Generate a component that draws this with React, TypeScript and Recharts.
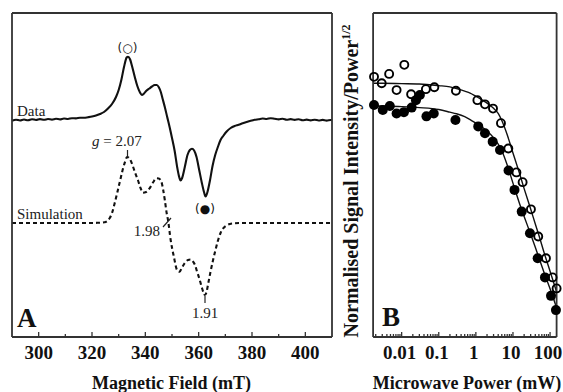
import React from 'react';
import { LineChart, ComposedChart, Line, Scatter, XAxis, YAxis } from 'recharts';

// ---------- Panel A : EPR spectrum ----------
const dataField = [290, 291.5, 293, 294.5, 296, 297.5, 299, 300.5, 302, 303.5, 305, 306.5, 308, 309.5, 311, 312.5, 314, 315.5, 317, 318.5, 320, 321.5, 323, 324.5, 326, 327.5, 329, 330, 331, 332, 333, 333.5, 334.3, 335, 336, 337, 338, 338.7, 339.5, 340.5, 341.5, 342.5, 343.5, 344.3, 345, 345.8, 346.5, 347.3, 348.2, 349.1, 350, 351, 352, 352.6, 353.2, 353.8, 354.8, 355.8, 356.7, 357.5, 358.3, 359.2, 360.2, 361.2, 362, 362.6, 363.3, 364.2, 365.2, 366.2, 367.2, 368.2, 369.2, 370.5, 372, 373.5, 375, 376.5, 378, 379.5, 381, 382.5, 384, 385.5, 387, 388.5, 390, 391.5, 393, 394.5, 396, 397.5, 399, 400.5, 402, 403.5, 405, 406.5, 408, 409.5, 410];
const dataSignal = [-0.7, 0.3, -0.5, 0.5, -0.3, 0.8, 0, 0.9, 0.2, 1.0, 0.4, 1.2, 0.6, 1.5, 1.0, 1.8, 1.6, 2.2, 2.2, 2.8, 3.5, 4.5, 6, 8, 11.5, 16, 23, 30, 40, 53, 62.5, 63.3, 60.5, 54, 43.5, 34, 27.5, 25, 26.5, 29.5, 31.5, 33.5, 35, 35, 33, 28, 21, 13, 3, -7, -18, -31, -48, -56, -60.5, -58, -47, -35, -30, -28.8, -30.5, -37, -50, -63, -72, -76.5, -72, -61, -46, -35, -27, -20, -16, -11.5, -8, -6, -4.8, -3.3, -2, -0.8, 0.2, 0.8, 1.5, 1.0, 1.8, 1.2, 0.6, 1.3, 0.2, 0.9, 0.1, 0.7, -0.2, 0.4, -0.4, 0.3, -0.5, 0.1, -0.6, 0, -0.3];

const simField = [290, 300, 310, 318, 322, 324.7, 326.6, 327.5, 328.5, 330.3, 332.2, 333.2, 334.2, 335.3, 336.2, 337.2, 338.2, 339.1, 340.3, 341.6, 343, 344.1, 345, 346, 346.7, 347.3, 348, 348.5, 349.5, 350.7, 351.9, 352.9, 353.6, 354.8, 356, 357, 357.9, 358.7, 359.4, 360.3, 361.1, 361.8, 362.3, 362.9, 363.6, 364.5, 365.4, 366.4, 367.3, 368.2, 369.2, 370.4, 371.7, 373.5, 375.5, 390, 410];
const simSignal = [0, 0, 0, 0, 0.2, 0.8, 4.7, 10, 19.7, 39.7, 59.7, 66, 64, 57, 50, 43, 35, 30.3, 31, 34.7, 41, 44.7, 44.5, 41.3, 33, 23, 10, 3, -17, -33.7, -47, -48.7, -45.3, -40, -37, -36.5, -38.7, -42.5, -48.7, -56, -63.7, -69.5, -72, -69.5, -60.3, -48, -37, -26, -17, -10, -5.3, -2.5, -1, -0.3, 0, 0, 0];

const SIM_OFFSET = -103; // vertical offset of the simulated trace
const fieldMajorTicks = [300, 320, 340, 360, 380, 400];
const fieldAllTicks = [300, 310, 320, 330, 340, 350, 360, 370, 380, 390, 400];
const fieldTickLabels = ['300', '320', '340', '360', '380', '400'];

// ---------- Panel B : power saturation ----------
const openPower = [0.0018, 0.0029, 0.0046, 0.0073, 0.0118, 0.018, 0.045, 0.076, 0.29, 1.1, 1.76, 2.9, 4.75, 7.5, 12.4, 18.2, 30.5, 48, 77.5, 117, 150];
const openRatio = [0.803, 0.783, 0.812, 0.762, 0.84, 0.749, 0.765, 0.771, 0.76, 0.731, 0.718, 0.705, 0.66, 0.582, 0.508, 0.478, 0.394, 0.31, 0.243, 0.184, 0.15];
const filledPower = [0.0018, 0.0031, 0.0048, 0.0073, 0.0115, 0.0186, 0.0243, 0.031, 0.0466, 0.0733, 0.282, 1.16, 1.76, 2.84, 4.47, 7.6, 11.0, 17.2, 28.7, 46.3, 72.9, 106, 144];
const filledRatio = [0.716, 0.701, 0.713, 0.69, 0.694, 0.708, 0.731, 0.747, 0.681, 0.69, 0.67, 0.65, 0.629, 0.603, 0.577, 0.514, 0.454, 0.387, 0.32, 0.243, 0.184, 0.127, 0.083];
const fitPower = [0.0017, 0.003, 0.01, 0.03, 0.1, 0.2, 0.3, 0.5, 0.7, 1, 1.5, 2, 3, 4, 5, 7, 10, 15, 20, 30, 40, 50, 70, 100, 150];
const fitOpen = [0.783, 0.783, 0.782, 0.781, 0.776, 0.772, 0.767, 0.759, 0.753, 0.743, 0.731, 0.722, 0.706, 0.69, 0.668, 0.624, 0.568, 0.505, 0.458, 0.395, 0.349, 0.314, 0.258, 0.203, 0.139];
const fitFilled = [0.713, 0.713, 0.711, 0.708, 0.702, 0.694, 0.689, 0.68, 0.671, 0.66, 0.647, 0.636, 0.615, 0.595, 0.575, 0.531, 0.475, 0.412, 0.372, 0.317, 0.277, 0.245, 0.197, 0.149, 0.09];
const powerMajorTicks = [0.01, 0.1, 1, 10, 100];
const powerTickLabels = ['0.01', '0.1', '1', '10', '100'];
const powerMinorMult = [2, 3, 4, 5, 6, 7, 8, 9];
const powerDecades = [0.001, 0.01, 0.1, 1, 10];

// ---------- derived tables ----------
const dataPts = dataField.map((f, i) => ({ f, v: dataSignal[i] }));
const simPts = simField.map((f, i) => ({ f, v: simSignal[i] + SIM_OFFSET }));
const openPts = openPower.map((p, i) => ({ p, r: openRatio[i] }));
const filledPts = filledPower.map((p, i) => ({ p, r: filledRatio[i] }));
const fitPts = fitPower.map((p, i) => ({ p, open: fitOpen[i], filled: fitFilled[i] }));
const powerAllTicks = [
  ...powerDecades.flatMap((d) => powerMinorMult.map((m) => +(d * m).toPrecision(3))),
  ...powerMajorTicks,
]
  .filter((t) => t >= 0.0017 && t <= 150)
  .sort((a, b) => a - b);

const SERIF = '"Liberation Serif", "Times New Roman", Times, serif';
const SANS = '"DejaVu Sans", Arial, sans-serif';
const FRAME = '#333';
const AXIS_LINE = { stroke: FRAME, strokeWidth: 1.8 };

function tickRenderer(majors: number[], labels: string[] | null, inward: number, fontSize: number, dx: number) {
  return (props: any) => {
    const { x, y, payload } = props;
    const v = Number(payload.value);
    const idx = majors.findIndex((m) => Math.abs(m - v) <= Math.abs(m) * 1e-6);
    const major = idx >= 0;
    const len = major ? 5 : 3;
    return (
      <g>
        <line x1={x} x2={x} y1={y} y2={y + inward * len} stroke={FRAME} strokeWidth={1.3} />
        {labels && major ? (
          <text x={x + dx} y={y + 22} textAnchor="middle" fontFamily={SERIF} fontWeight="bold" fontSize={fontSize} fill="#111">
            {labels[idx]}
          </text>
        ) : null}
      </g>
    );
  };
}

const CircleOpen = (props: any) => (
  <circle cx={props.cx} cy={props.cy} r={4} fill="none" stroke="#000" strokeWidth={1.9} />
);
const CircleFilled = (props: any) => <circle cx={props.cx} cy={props.cy} r={5} fill="#000" />;

export default function App() {
  return (
    <div style={{ position: 'absolute', left: 0, top: 0, width: 563, height: 392, background: '#fff' }}>
      <div style={{ position: 'absolute', left: 0, top: 0 }}>
        <LineChart width={340} height={392} margin={{ top: 12, right: 7, bottom: 25, left: 11 }}>
          <XAxis
            xAxisId="b"
            dataKey="f"
            type="number"
            domain={[290, 410]}
            ticks={fieldAllTicks}
            interval={0}
            height={30}
            tickSize={0}
            tickMargin={0}
            tickLine={false}
            axisLine={AXIS_LINE}
            tick={tickRenderer(fieldMajorTicks, fieldTickLabels, -1, 19, 0)}
          />
          <XAxis
            xAxisId="t"
            orientation="top"
            dataKey="f"
            type="number"
            domain={[290, 410]}
            ticks={fieldAllTicks}
            interval={0}
            height={1}
            tickSize={0}
            tickMargin={0}
            tickLine={false}
            axisLine={AXIS_LINE}
            tick={tickRenderer(fieldMajorTicks, null, 1, 19, 0)}
          />
          <YAxis yAxisId="l" type="number" domain={[-217, 107]} width={1} tick={false} tickLine={false} axisLine={AXIS_LINE} />
          <YAxis yAxisId="r" orientation="right" type="number" domain={[-217, 107]} width={1} tick={false} tickLine={false} axisLine={AXIS_LINE} />
          <Line xAxisId="b" yAxisId="l" data={dataPts} dataKey="v" type="monotone" stroke="#111" strokeWidth={2.1} dot={false} isAnimationActive={false} />
          <Line xAxisId="b" yAxisId="l" data={simPts} dataKey="v" type="monotone" stroke="#111" strokeWidth={2.1} strokeDasharray="4 3" dot={false} isAnimationActive={false} />
        </LineChart>
      </div>
      <div style={{ position: 'absolute', left: 340, top: 0 }}>
        <ComposedChart width={223} height={392} margin={{ top: 12, right: 5.4, bottom: 25, left: 32.1 }}>
          <XAxis
            xAxisId="b"
            dataKey="p"
            type="number"
            scale="log"
            domain={[0.0017, 150]}
            ticks={powerAllTicks}
            interval={0}
            height={30}
            tickSize={0}
            tickMargin={0}
            tickLine={false}
            axisLine={AXIS_LINE}
            tick={tickRenderer(powerMajorTicks, powerTickLabels, -1, 19, -2)}
          />
          <XAxis
            xAxisId="t"
            orientation="top"
            dataKey="p"
            type="number"
            scale="log"
            domain={[0.0017, 150]}
            ticks={powerAllTicks}
            interval={0}
            height={1}
            tickSize={0}
            tickMargin={0}
            tickLine={false}
            axisLine={AXIS_LINE}
            tick={tickRenderer(powerMajorTicks, null, 1, 19, 0)}
          />
          <YAxis yAxisId="l" type="number" domain={[0, 1]} width={1} tick={false} tickLine={false} axisLine={AXIS_LINE} />
          <YAxis yAxisId="r" orientation="right" type="number" domain={[0, 1]} width={1} tick={false} tickLine={false} axisLine={AXIS_LINE} />
          <Line xAxisId="b" yAxisId="l" data={fitPts} dataKey="open" type="monotone" stroke="#111" strokeWidth={1.4} dot={false} isAnimationActive={false} />
          <Line xAxisId="b" yAxisId="l" data={fitPts} dataKey="filled" type="monotone" stroke="#111" strokeWidth={1.4} dot={false} isAnimationActive={false} />
          <Scatter xAxisId="b" yAxisId="l" data={filledPts} dataKey="r" shape={CircleFilled} isAnimationActive={false} />
          <Scatter xAxisId="b" yAxisId="l" data={openPts} dataKey="r" shape={CircleOpen} isAnimationActive={false} />
        </ComposedChart>
      </div>
      <svg width={563} height={392} style={{ position: 'absolute', left: 0, top: 0, pointerEvents: 'none' }}>
        <g fontFamily={SERIF} fill="#222">
          <text x={17} y={116} fontSize={15}>Data</text>
          <text x={17} y={219} fontSize={15}>Simulation</text>
          <text x={92} y={146} fontSize={15}>
            <tspan fontStyle="italic">g</tspan> = 2.07
          </text>
          <text x={160} y={236} fontSize={15} textAnchor="end">1.98</text>
          <text x={205} y={318} fontSize={15} textAnchor="middle">1.91</text>
          <line x1={127.5} x2={127.5} y1={150} y2={156} stroke="#222" strokeWidth={1.2} />
          <line x1={205} x2={205} y1={296} y2={303} stroke="#222" strokeWidth={1.2} />
          <line x1={163} x2={171} y1={227} y2={218} stroke="#222" strokeWidth={1.2} />
        </g>
        <text x={127.5} y={52} fontSize={12} fontFamily={SANS} textAnchor="middle" fill="#222">(○)</text>
        <text x={205} y={213} fontSize={12} fontFamily={SANS} textAnchor="middle" fill="#111">(●)</text>
        <g fontFamily={SERIF} fontWeight="bold" fill="#111">
          <text x={17} y={327} fontSize={27}>A</text>
          <text x={382} y={326} fontSize={27}>B</text>
          <text x={171.5} y={389} fontSize={18} textAnchor="middle">Magnetic Field (mT)</text>
          <text x={467} y={389} fontSize={18} textAnchor="middle">Microwave Power (mW)</text>
          <text x={358} y={181} fontSize={20} textAnchor="middle" transform="rotate(-90 358 181)">
            Normalised Signal Intensity/Power
            <tspan fontSize={12} dy={-8}>1/2</tspan>
          </text>
        </g>
      </svg>
    </div>
  );
}
